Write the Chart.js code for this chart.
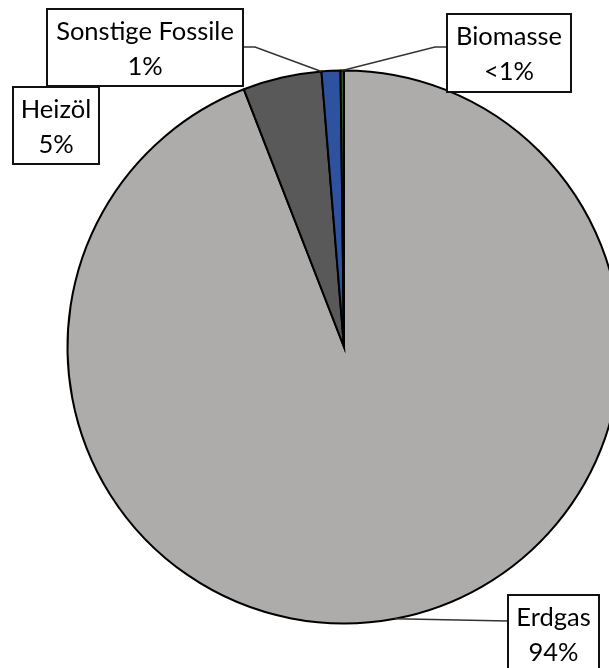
<!DOCTYPE html>
<html>
<head>
<meta charset="utf-8">
<script src="https://cdn.jsdelivr.net/npm/chart.js@4/dist/chart.umd.min.js"></script>
<style>
  html, body { margin: 0; padding: 0; overflow: hidden; background: #ffffff; }
  #wrap { position: relative; width: 700px; height: 700px; }
</style>
</head>
<body>
<div id="wrap"><canvas id="pie" width="700" height="700"></canvas></div>
<script>
// Energieträger und ihre Anteile (in %)
const categories = ['Erdgas', 'Heizöl', 'Sonstige Fossile', 'Biomasse'];
const shares = [94.1, 4.6, 1.1, 0.2];
const sliceColors = ['#aeabab', '#595959', '#2f52a0', '#385723'];

// Beschriftungskästen: Rahmen (links, oben, Breite, Höhe), Seite und Höhe der Führungslinie, Ankerpunkt auf dem Bogen
const labelBoxes = [
  { box: [508, 595, 91, 78], line: 'left',  lineY: 26, stub: 0,  anchor: 0.5 },  // Erdgas
  { box: [13, 87, 86, 77],   line: 'none',  lineY: 0,  stub: 0,  anchor: 0.5 },  // Heizöl
  { box: [47, 9, 196, 77],   line: 'right', lineY: 38, stub: 12, anchor: 0.0 },  // Sonstige Fossile
  { box: [447, 14, 124, 78], line: 'left',  lineY: 33, stub: 12, anchor: 0.5 }   // Biomasse
];

function percentText(v, total) {
  const p = v / total * 100;
  return p < 0.5 ? '<1%' : Math.round(p) + '%';
}

const calloutPlugin = {
  id: 'callouts',
  afterDraw(chart) {
    const ctx = chart.ctx;
    const meta = chart.getDatasetMeta(0);
    const data = chart.data.datasets[0].data;
    const total = data.reduce((a, b) => a + b, 0);
    ctx.save();
    meta.data.forEach((arc, i) => {
      const cfg = labelBoxes[i];
      const [bx, by, bw, bh] = cfg.box;
      const p = arc.getProps(['x', 'y', 'startAngle', 'endAngle', 'outerRadius'], true);
      const ang = p.startAngle + (p.endAngle - p.startAngle) * cfg.anchor;
      const ax = p.x + Math.cos(ang) * p.outerRadius;
      const ay = p.y + Math.sin(ang) * p.outerRadius;

      // Führungslinie
      if (cfg.line !== 'none') {
        const ex = cfg.line === 'left' ? bx : bx + bw;
        const ey = by + cfg.lineY;
        ctx.beginPath();
        ctx.strokeStyle = '#333333';
        ctx.lineWidth = 1.5;
        ctx.moveTo(ex, ey);
        if (cfg.stub) {
          ctx.lineTo(cfg.line === 'left' ? ex - cfg.stub : ex + cfg.stub, ey);
        }
        ctx.lineTo(ax, ay);
        ctx.stroke();
      }

      // Kasten
      ctx.fillStyle = '#ffffff';
      ctx.fillRect(bx, by, bw, bh);
      ctx.strokeStyle = '#111111';
      ctx.lineWidth = 2;
      ctx.strokeRect(bx, by, bw, bh);

      // Text: Kategorie und Anteil
      ctx.fillStyle = '#000000';
      ctx.font = '25.5px Lato, "Open Sans", sans-serif';
      ctx.textAlign = 'center';
      ctx.textBaseline = 'alphabetic';
      const cx = bx + bw / 2;
      ctx.fillText(chart.data.labels[i], cx, by + 31);
      ctx.fillText(percentText(data[i], total), cx, by + 66);
    });
    ctx.restore();
  }
};

new Chart(document.getElementById('pie'), {
  type: 'pie',
  data: {
    labels: categories,
    datasets: [{
      data: shares,
      backgroundColor: sliceColors,
      borderColor: '#000000',
      borderWidth: 2,
      borderJoinStyle: 'miter'
    }]
  },
  options: {
    responsive: false,
    animation: false,
    layout: { padding: { left: 66.5, top: 69.5, right: 78.5, bottom: 75.5 } },
    plugins: {
      legend: { display: false },
      tooltip: { enabled: false }
    }
  },
  plugins: [calloutPlugin]
});
</script>
</body>
</html>
